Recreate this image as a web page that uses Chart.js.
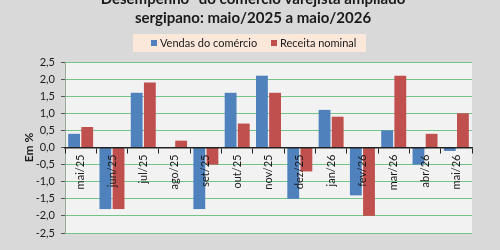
<!DOCTYPE html>
<html>
<head>
<meta charset="utf-8">
<script src="https://cdn.jsdelivr.net/npm/chart.js@4"></script>
<style>
  body { margin: 0; background: #d9d9d9; overflow: hidden; }
  #caixa { position: relative; width: 500px; height: 250px; }
</style>
</head>
<body>
<div id="caixa"><canvas id="myChart"></canvas></div>
<script>
const meses = ["mai/25", "jun/25", "jul/25", "ago/25", "set/25", "out/25", "nov/25",
  "dez/25", "jan/26", "fev/26", "mar/26", "abr/26", "mai/26"]
const vendas = [0.4, -1.8, 1.6, 0, -1.8, 1.6, 2.1, -1.5, 1.1, -1.4, 0.5, -0.5, -0.1]
const receita = [0.6, -1.8, 1.9, 0.2, -0.5, 0.7, 1.6, -0.7, 0.9, -2.0, 2.1, 0.4, 1.0]
const titulo = ["Desempenho* do comércio varejista ampliado", "sergipano: maio/2025 a maio/2026"]

const fonte = "Lato, 'Open Sans', sans-serif"
const ctx = document.querySelector("#myChart")

// fundo da área do gráfico
const fundo = {
  id: "fundo",
  beforeDraw(chart) {
    const { ctx, chartArea: a } = chart
    ctx.save()
    ctx.fillStyle = "#f2f2f2"
    ctx.fillRect(a.left, a.top, a.right - a.left, a.bottom - a.top)
    ctx.restore()
  }
}

// título e legenda desenhados à mão
const cabecalho = {
  id: "cabecalho",
  afterDraw(chart) {
    const c = chart.ctx
    c.save()
    c.fillStyle = "#1a1a1a"
    c.textAlign = "center"
    c.textBaseline = "middle"
    c.font = "bold 15px " + fonte
    c.fillText(titulo[0], 253, -1)
    c.fillText(titulo[1], 253, 18)

    c.fillStyle = "#fce8db"
    c.fillRect(133, 34, 233, 18)
    c.font = "11px " + fonte
    c.textAlign = "left"
    const itens = [["Vendas do comércio", "#4f81bd", 151], ["Receita nominal", "#c0504d", 271]]
    itens.forEach(([txt, cor, x]) => {
      c.fillStyle = cor
      c.fillRect(x, 40, 6, 6)
      c.fillStyle = "#1a1a1a"
      c.fillText(txt, x + 9, 43.5)
    })
    c.restore()
  }
}

new Chart(ctx, {
  type: "bar",
  data: {
    labels: meses,
    datasets: [
      { label: "Vendas do comércio", data: vendas, backgroundColor: "#4f81bd" },
      { label: "Receita nominal", data: receita, backgroundColor: "#c0504d" }
    ]
  },
  options: {
    responsive: true,
    maintainAspectRatio: false,
    animation: false,
    layout: { padding: { top: 62, right: 28, bottom: 17, left: 0 } },
    datasets: { bar: { categoryPercentage: 0.84, barPercentage: 0.9 } },
    plugins: { legend: { display: false }, title: { display: false }, tooltip: { enabled: false } },
    scales: {
      x: {
        position: { y: 0 },
        grid: { drawOnChartArea: false, offset: true, tickLength: 5, color: "#222", z: 1 },
        border: { color: "#222", width: 1.5, z: 1 },
        ticks: { z: 1, maxRotation: 90, minRotation: 90, padding: 2, color: "#1a1a1a", font: { family: fonte, size: 11 } }
      },
      y: {
        min: -2.5,
        max: 2.5,
        afterFit(scale) { scale.width = 65 },
        grid: { color: "#74c48a", lineWidth: 1, tickLength: 4, tickColor: "#555" },
        border: { color: "#9aa89a" },
        ticks: {
          stepSize: 0.5,
          padding: 6,
          color: "#1a1a1a",
          font: { family: fonte, size: 11 },
          callback: v => v.toFixed(1).replace(".", ",")
        },
        title: { display: true, text: "Em %", color: "#1a1a1a", padding: { top: 22, bottom: 0 }, font: { family: fonte, size: 12, weight: "bold" } }
      }
    }
  },
  plugins: [fundo, cabecalho]
})
</script>
</body>
</html>
